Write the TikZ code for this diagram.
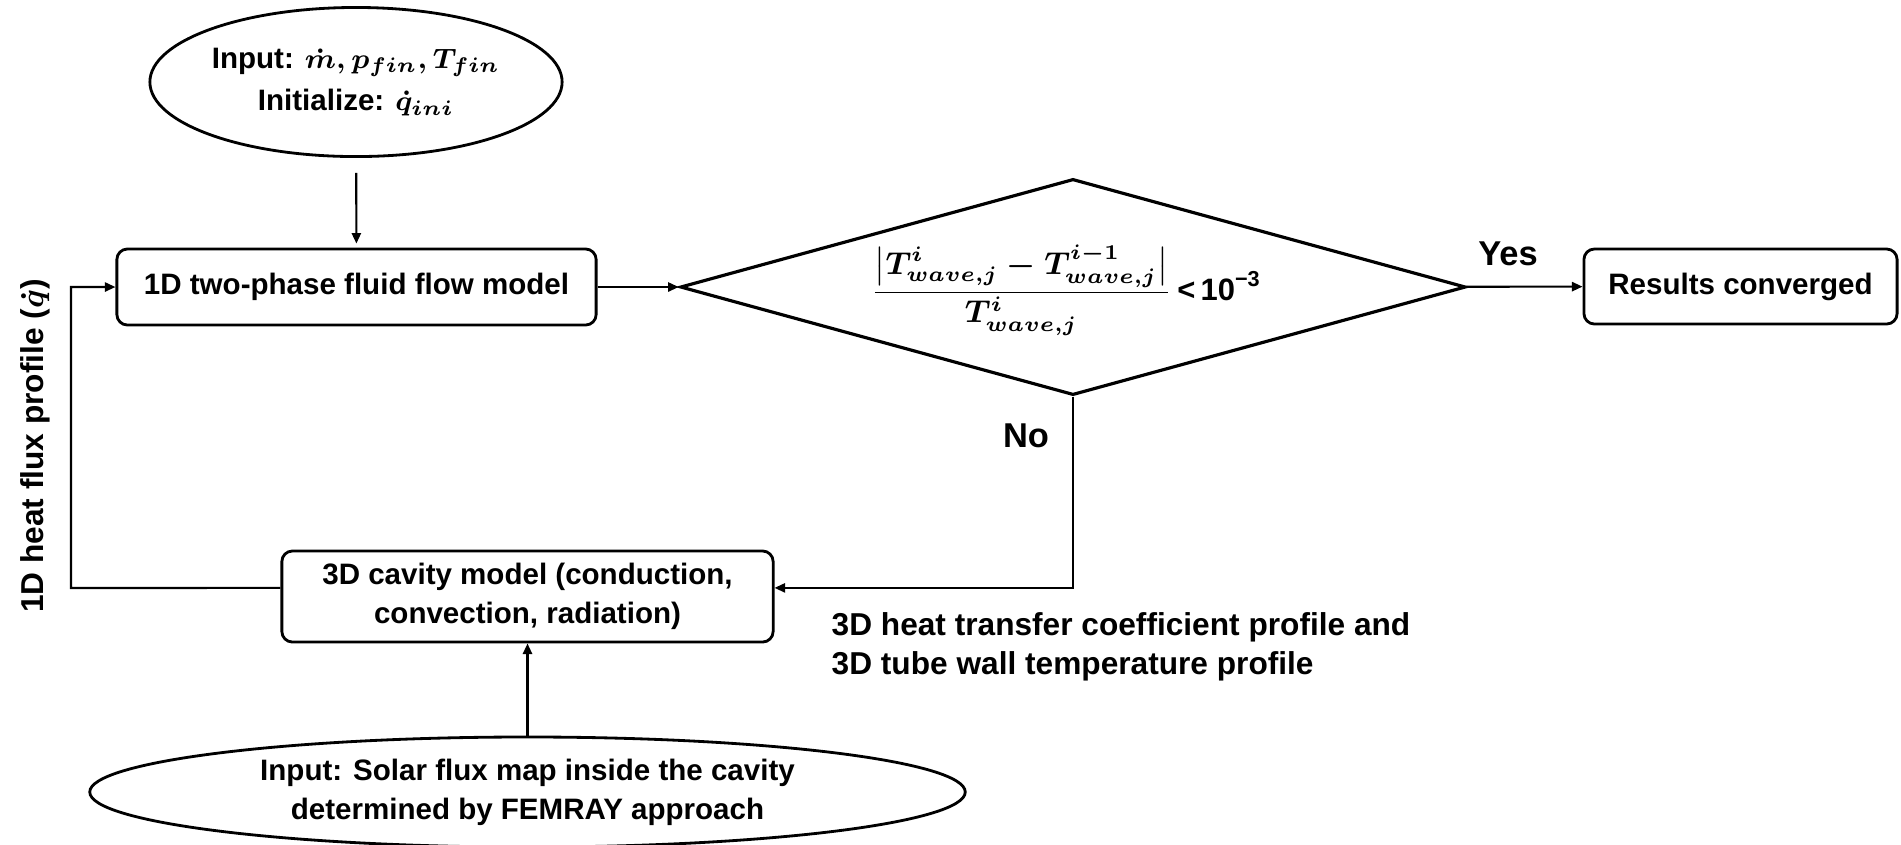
\documentclass[tikz,border=0pt]{standalone}
\usepackage{fontspec}
\setmainfont{Liberation Sans}
\usepackage{amsmath}
\usetikzlibrary{arrows.meta,shapes.geometric,positioning}
\newcommand\flowfont{\fontsize{8.4}{11.1}\selectfont\bfseries\boldmath}
\newcommand\tagfont{\fontsize{9.8}{12}\selectfont\bfseries}
\newcommand\notefont{\fontsize{9}{11.2}\selectfont\bfseries\boldmath}
\tikzset{>={Triangle[length=3pt,width=2.6pt]},
	procbox/.style={draw,rounded corners=3pt,line width=0.8pt,inner sep=0pt,align=center,font=\flowfont},
	inbubble/.style={ellipse,draw,line width=0.8pt,inner sep=0pt,align=center,font=\flowfont},
	decide/.style={diamond,draw,line width=0.9pt,inner sep=0pt},
	tag/.style={font=\tagfont,inner sep=0pt},
	note/.style={font=\notefont,inner sep=0pt,align=left},
	flow/.style={->,line width=0.6pt}}

\begin{document}
\begin{tikzpicture}[x=0.01cm,y=-0.01cm]
	\useasboundingbox (0,0) rectangle (1901,844);
	\node (inp) at (356,82) [inbubble,minimum width=4.12cm,minimum height=1.49cm] {Input: $\dot{m}, p_{fin}, T_{fin}$\\[1pt]Initialize: $\dot{q}_{ini}$};
	\node (flow) at (356.5,287) [procbox,minimum width=4.79cm,minimum height=0.76cm] {1D two-phase fluid flow model};
	\node (chk) at (1073,287) [decide,minimum width=7.85cm,minimum height=2.16cm] {};
	\node (crit) at (1066,290) [inner sep=0pt,font=\fontsize{8.8}{11}\selectfont\bfseries\boldmath] {$\dfrac{\bigl|T^{i}_{wave,j}-T^{i-1}_{wave,j}\bigr|}{T^{i}_{wave,j}}$\,<\,10\textsuperscript{−3}};
	\node (res) at (1740.5,286.5) [procbox,minimum width=3.13cm,minimum height=0.75cm] {Results converged};
	\node (cav) at (527.5,596.5) [procbox,minimum width=4.91cm,minimum height=0.91cm] {3D cavity model (conduction,\\convection, radiation)};
	\node (sol) at (527.5,792) [inbubble,minimum width=8.75cm,minimum height=1.1cm] {Input: Solar flux map inside the cavity\\determined by FEMRAY approach};
	\node (yes) at (1508,265) [tag,anchor=base] {Yes};
	\node (no) at (1026,447) [tag,anchor=base] {No};
	\node (qlab) at (35,446) [tag,font=\fontsize{9}{11}\selectfont\bfseries\boldmath,rotate=90] {1D heat flux profile ($\dot{q}$)};
	\node (htc) at (831,647) [note,anchor=west] {3D heat transfer coefficient profile and\\3D tube wall temperature profile};
	\coordinate (loop) at (71,588);
	\draw [flow,shorten <=0.15cm,shorten >=0.04cm] (inp) -- (flow);
	\draw [flow] (flow) -- (chk);
	\draw [flow] (chk) -- (res);
	\draw [flow] (chk.south) |- (cav.2);
	\draw [flow] (cav.178) -- (loop) |- (flow.west);
	\draw [flow] (sol) -- (cav);
\end{tikzpicture}
\end{document}
